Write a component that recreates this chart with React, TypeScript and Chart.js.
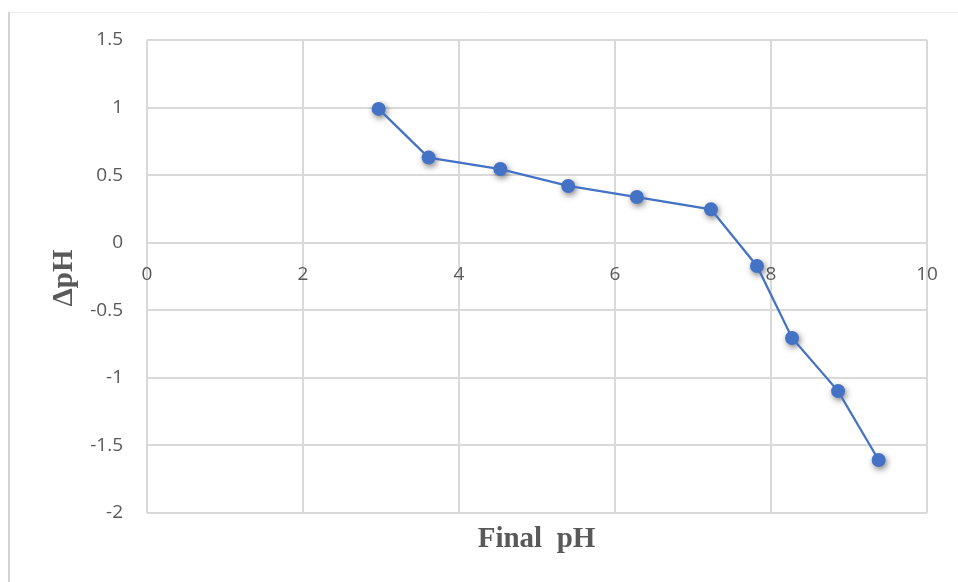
import React, { useEffect, useRef } from "react";
import { Chart, registerables } from "chart.js";

Chart.register(...registerables);

// Final pH (x) against the change in pH (y)
const finalPH = [2.97, 3.61, 4.53, 5.40, 6.28, 7.23, 7.82, 8.27, 8.86, 9.38];
const deltaPH = [0.99, 0.63, 0.545, 0.42, 0.338, 0.247, -0.172, -0.705, -1.098, -1.608];

const xTicks = [0, 2, 4, 6, 8, 10];
const yTicks = [-2, -1.5, -1, -0.5, 0, 0.5, 1, 1.5];

const xTitle = "Final  pH";
const yTitle = "ΔpH";

const BLUE = "#4472C4";
const GRID = "#d9d9d9";
const TEXT = "#595959";

const points = finalPH.map((x, i) => ({ x, y: deltaPH[i] }));

// Plain number labels: 1, -1, 0.5 (no trailing ".0")
const fmt = (v: number | string) => String(Number(v));

// Frame around the chart plus the two axis titles
const decorPlugin = {
  id: "decor",
  beforeDraw(chart: any) {
    const { ctx, width, height } = chart;
    ctx.save();
    ctx.fillStyle = "#ffffff";
    ctx.fillRect(0, 0, width, height);
    ctx.strokeStyle = "#ececec";
    ctx.lineWidth = 1;
    ctx.beginPath();
    ctx.moveTo(9, 12.5);
    ctx.lineTo(width, 12.5);
    ctx.stroke();
    ctx.strokeStyle = "#d4d4d4";
    ctx.lineWidth = 2;
    ctx.beginPath();
    ctx.moveTo(9, 12);
    ctx.lineTo(9, height);
    ctx.stroke();
    ctx.restore();
  },
  afterDraw(chart: any) {
    const { ctx, chartArea } = chart;
    ctx.save();
    ctx.fillStyle = TEXT;
    ctx.font = "bold 29px 'Liberation Serif', 'Times New Roman', serif";
    ctx.textAlign = "center";
    ctx.textBaseline = "alphabetic";
    ctx.fillText(xTitle, (chartArea.left + chartArea.right) / 2 - 0.5, 547);
    ctx.translate(72, 278);
    ctx.rotate(-Math.PI / 2);
    ctx.fillText(yTitle, 0, 0);
    ctx.restore();
  },
};

// Soft drop shadow under the markers only
const shadowPlugin = {
  id: "markerShadow",
  beforeDatasetDraw(chart: any, args: any) {
    if (args.index !== 1) return;
    const ctx = chart.ctx;
    ctx.save();
    ctx.shadowColor = "rgba(0,0,0,0.5)";
    ctx.shadowBlur = 6;
    ctx.shadowOffsetX = 1.5;
    ctx.shadowOffsetY = 2.5;
  },
  afterDatasetDraw(chart: any, args: any) {
    if (args.index !== 1) return;
    chart.ctx.restore();
  },
};

export default function App() {
  const ref = useRef<HTMLCanvasElement | null>(null);

  useEffect(() => {
    if (!ref.current) return;
    const chart = new Chart(ref.current, {
      type: "scatter",
      data: {
        datasets: [
          {
            data: points,
            showLine: true,
            borderColor: BLUE,
            borderWidth: 2.25,
            pointRadius: 0,
            pointHoverRadius: 0,
          },
          {
            data: points,
            showLine: false,
            backgroundColor: BLUE,
            borderColor: BLUE,
            borderWidth: 0,
            pointRadius: 7,
            pointHoverRadius: 7,
          },
        ],
      },
      options: {
        responsive: false,
        animation: false,
        events: [],
        layout: { padding: { left: 0, top: 40, right: 31, bottom: 69 } },
        plugins: {
          legend: { display: false },
          tooltip: { enabled: false },
          title: { display: false },
        },
        scales: {
          x: {
            type: "linear",
            position: { y: 0 },
            min: 0,
            max: 10,
            afterBuildTicks: (s: any) => {
              s.ticks = xTicks.map((v) => ({ value: v }));
            },
            grid: { color: GRID, lineWidth: 2, drawTicks: false },
            border: { display: false },
            ticks: {
              color: TEXT,
              font: { family: "'Open Sans', sans-serif", size: 19 },
              padding: 20,
              maxRotation: 0,
              callback: fmt,
            },
          },
          y: {
            type: "linear",
            position: "left",
            min: -2,
            max: 1.5,
            afterBuildTicks: (s: any) => {
              s.ticks = yTicks.map((v) => ({ value: v }));
            },
            afterFit: (s: any) => {
              s.width = 147;
            },
            grid: { color: GRID, lineWidth: 2, drawTicks: false },
            border: { display: false },
            ticks: {
              color: TEXT,
              font: { family: "'Open Sans', sans-serif", size: 19 },
              padding: 24,
              callback: fmt,
            },
          },
        },
      },
      plugins: [decorPlugin, shadowPlugin],
    });
    return () => chart.destroy();
  }, []);

  return (
    <div style={{ position: "fixed", left: 0, top: 0, width: 958, height: 582 }}>
      <canvas ref={ref} width={958} height={582} style={{ display: "block" }} />
    </div>
  );
}
